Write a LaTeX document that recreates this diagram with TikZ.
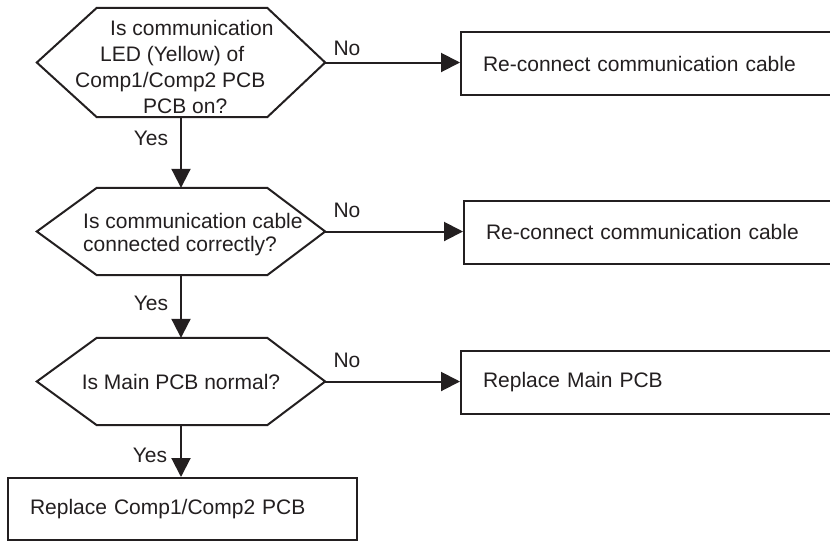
\documentclass[tikz,border=0pt]{standalone}
\usepackage{fontspec}
\setmainfont{Liberation Sans}
\usetikzlibrary{arrows.meta}
\definecolor{ink}{RGB}{35,31,32}
\begin{document}
\begin{tikzpicture}[x=1pt,y=-1pt,
  every node/.style={font=\fontsize{21}{26}\selectfont, text=ink},
  hexnode/.style={minimum width=288pt, minimum height=#1, inner sep=0pt},
  actbox/.style={draw=ink, line width=2pt, rectangle, minimum height=63pt,
    inner xsep=22pt, inner ysep=0pt, align=left},
  link/.style={draw=ink, line width=2pt, -{Triangle[length=19pt,width=19pt]}},
  lbl/.style={inner sep=0pt}]
\useasboundingbox (0,0) rectangle (830,542);
\clip (0,0) rectangle (830,542);
\fill[white] (0,0) rectangle (830,542);

% decision nodes (outlines drawn below)
\node[hexnode=109pt] (d1) at (181,62.5) {};
\node[hexnode=87pt] (d2) at (181,231.5) {};
\node[hexnode=87pt] (d3) at (181,381.5) {Is Main PCB normal?};

\foreach \d in {d1,d2,d3}{
  \draw[ink, line width=2pt, line join=miter]
    (\d.west) -- ([xshift=60pt]\d.north west) -- ([xshift=-58pt]\d.north east)
    -- (\d.east) -- ([xshift=-58pt]\d.south east) -- ([xshift=60pt]\d.south west) -- cycle;
}

\node[anchor=west, align=left, inner sep=0pt] (t1) at (75,66.5)
  {\hspace*{35pt}Is communication\\ \hspace*{25pt}LED (Yellow) of\\ Comp1/Comp2 PCB\\ \hspace*{68pt}PCB on?};
\node[anchor=west, align=left, inner sep=0pt,
  font=\fontsize{21}{23.5}\selectfont] (t2) at (83,234.5)
  {Is communication cable\\ connected correctly?};

% action boxes
\node[actbox, text width=330pt] (r1) at (648,63.5) {Re-connect communication cable};
\node[actbox, text width=327pt] (r2) at (649.5,232) {Re-connect communication cable};
\node[actbox, text width=330pt] (r3) at (648,382) {Replace Main PCB};
\node[actbox, text width=305pt, minimum height=62pt] (fin) at (182.5,509) {Replace Comp1/Comp2 PCB};

% connectors
\draw[link] (d1.south) -- (d1.south |- d2.north);
\draw[link] (d2.south) -- (d2.south |- d3.north);
\draw[link] (d3.south) -- (d3.south |- fin.north);
\draw[link] (d1.east) -- (d1.east -| r1.west);
\draw[link] (d2.east) -- (d2.east -| r2.west);
\draw[link] (d3.east) -- (d3.east -| r3.west);

% labels
\node[lbl] (y1) at (151,138) {Yes};
\node[lbl] (y2) at (151,303) {Yes};
\node[lbl] (y3) at (150,455) {Yes};
\node[lbl] (n1) at (347,48) {No};
\node[lbl] (n2) at (347,210) {No};
\node[lbl] (n3) at (347,360) {No};
\end{tikzpicture}
\end{document}
